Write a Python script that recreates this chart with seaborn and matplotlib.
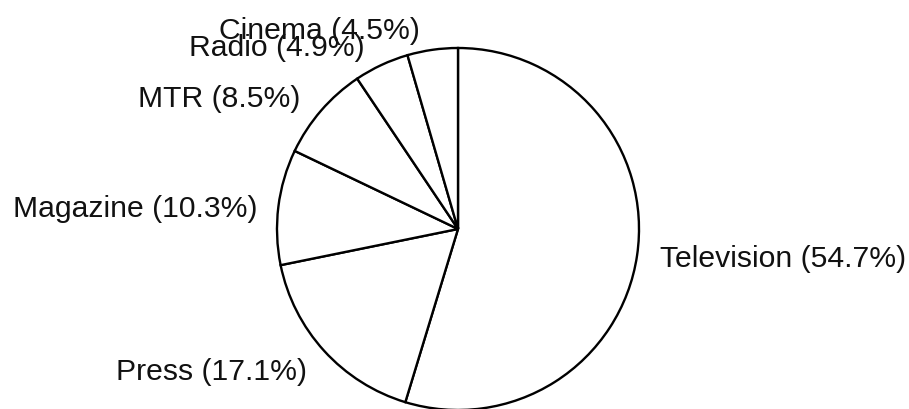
"""Share of advertising spending by medium, drawn as a plain outlined pie."""
import matplotlib
matplotlib.use("Agg")
import matplotlib.pyplot as plt
import seaborn as sns

media = ['Television', 'Press', 'Magazine', 'MTR', 'Radio', 'Cinema']
shares = [54.7, 17.1, 10.3, 8.5, 4.9, 4.5]

sns.set_theme(style="white")
plt.rcParams['font.family'] = ['Liberation Sans', 'DejaVu Sans']

fig = plt.figure(figsize=(9.09, 4.09), dpi=100)
ax = fig.add_axes([0, 0, 1, 1])

labels = ['%s (%.1f%%)' % (m, s) for m, s in zip(media, shares)]
wedges, texts = ax.pie(shares, labels=labels, startangle=90, counterclock=False,
                       colors=['white'] * len(shares),
                       wedgeprops=dict(edgecolor='black', linewidth=1.7),
                       textprops=dict(fontsize=21.7, color='#111111'))

# label spots as in the scan (pie radius = 1 unit)
spots = [(1.116, -0.166, 'left'), (-0.834, -0.79, 'right'), (-1.11, 0.11, 'right'),
         (-0.873, 0.718, 'right'), (-0.514, 1.0, 'right'), (-0.21, 1.094, 'right')]
for t, (x, y, ha) in zip(texts, spots):
    t.set_position((x, y))
    t.set_ha(ha)
    t.set_va('center')

# pie centre at (458, 229) px, radius 181 px
r = 181.0
ax.set_xlim(-458 / r, (909 - 458) / r)
ax.set_ylim(-(409 - 229) / r, 229 / r)
ax.set_aspect('equal')
ax.axis('off')

fig.savefig('out.png', dpi=100, facecolor='white')
